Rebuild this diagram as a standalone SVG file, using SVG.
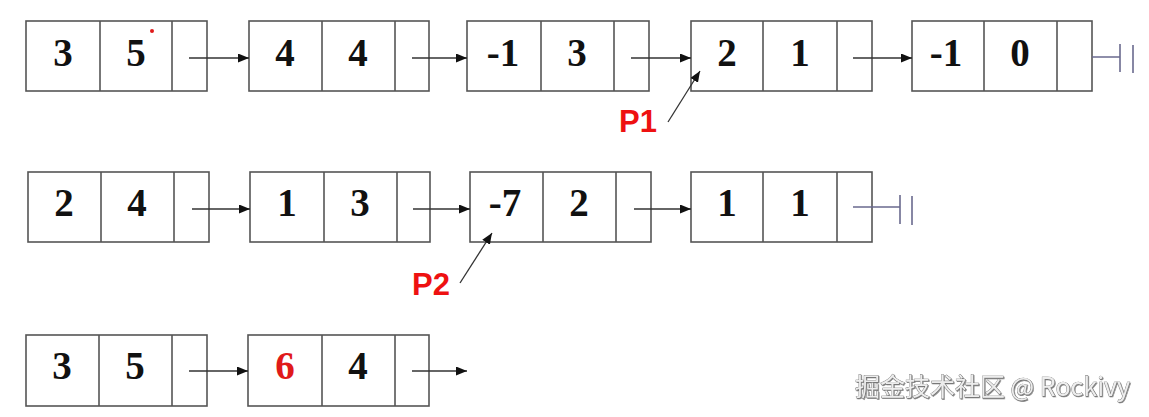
<svg xmlns="http://www.w3.org/2000/svg" width="1149" height="417" viewBox="0 0 1149 417">
<style>
.box{fill:#fff;stroke:#555;stroke-width:1.6}
.div{stroke:#555;stroke-width:1.6}
.num{font-family:"Liberation Serif","Times New Roman",serif;font-weight:bold;font-size:39px;fill:#111;text-anchor:middle}
.red{fill:#e01a1a}
.ptr{font-family:"Liberation Sans",Arial,sans-serif;font-weight:bold;font-size:31px;fill:#ee1111}
.conn{stroke:#333;stroke-width:1.3;fill:none}
.null{stroke:#6a6a8e;stroke-width:1.6;fill:none}
.wm{font-family:"Noto Sans CJK SC","Noto Sans",sans-serif;font-size:25px;fill:#ededed;stroke:#666;stroke-width:0.7;paint-order:stroke}
</style>
<defs>
<marker id="ah" markerUnits="userSpaceOnUse" markerWidth="11" markerHeight="9" refX="11" refY="4.5" orient="auto">
<path d="M0,0 L11,4.5 L0,9 z" fill="#111"/>
</marker>
<filter id="sh" x="-5%" y="-20%" width="110%" height="150%">
<feDropShadow dx="0.8" dy="1" stdDeviation="0.6" flood-color="#444" flood-opacity="0.7"/>
</filter>
</defs>

<!-- Row 1 -->
<g id="r1n1"><rect class="box" x="26" y="21" width="181" height="70"/><line class="div" x1="100" y1="21" x2="100" y2="91"/><line class="div" x1="172" y1="21" x2="172" y2="91"/><text class="num" x="63" y="66">3</text><text class="num" x="136" y="66">5</text><circle cx="152" cy="31" r="2" fill="#e01a1a"/></g>
<g id="r1n2"><rect class="box" x="249" y="21" width="180" height="70"/><line class="div" x1="322" y1="21" x2="322" y2="91"/><line class="div" x1="395" y1="21" x2="395" y2="91"/><text class="num" x="285" y="66">4</text><text class="num" x="358" y="66">4</text></g>
<g id="r1n3"><rect class="box" x="467" y="21" width="182" height="70"/><line class="div" x1="541" y1="21" x2="541" y2="91"/><line class="div" x1="614" y1="21" x2="614" y2="91"/><text class="num" x="503" y="66">-1</text><text class="num" x="577" y="66">3</text></g>
<g id="r1n4"><rect class="box" x="691" y="21" width="181" height="70"/><line class="div" x1="763" y1="21" x2="763" y2="91"/><line class="div" x1="837" y1="21" x2="837" y2="91"/><text class="num" x="727" y="66">2</text><text class="num" x="800" y="66">1</text></g>
<g id="r1n5"><rect class="box" x="912" y="21" width="180" height="70"/><line class="div" x1="984" y1="21" x2="984" y2="91"/><line class="div" x1="1057" y1="21" x2="1057" y2="91"/><text class="num" x="946" y="66">-1</text><text class="num" x="1020" y="66">0</text></g>
<g id="P1"><text class="ptr" x="619" y="132">P1</text></g>

<!-- Row 2 -->
<g id="r2n1"><rect class="box" x="28" y="172" width="181" height="70"/><line class="div" x1="101" y1="172" x2="101" y2="242"/><line class="div" x1="174" y1="172" x2="174" y2="242"/><text class="num" x="64" y="216">2</text><text class="num" x="137" y="216">4</text></g>
<g id="r2n2"><rect class="box" x="250" y="172" width="180" height="70"/><line class="div" x1="324" y1="172" x2="324" y2="242"/><line class="div" x1="397" y1="172" x2="397" y2="242"/><text class="num" x="287" y="216">1</text><text class="num" x="360" y="216">3</text></g>
<g id="r2n3"><rect class="box" x="470" y="172" width="181" height="70"/><line class="div" x1="543" y1="172" x2="543" y2="242"/><line class="div" x1="616" y1="172" x2="616" y2="242"/><text class="num" x="505" y="216">-7</text><text class="num" x="579" y="216">2</text></g>
<g id="r2n4"><rect class="box" x="691" y="172" width="181" height="70"/><line class="div" x1="763" y1="172" x2="763" y2="242"/><line class="div" x1="837" y1="172" x2="837" y2="242"/><text class="num" x="727" y="216">1</text><text class="num" x="800" y="216">1</text></g>
<g id="P2"><text class="ptr" x="412" y="295">P2</text></g>

<!-- Row 3 -->
<g id="r3n1"><rect class="box" x="26" y="335" width="181" height="71"/><line class="div" x1="99" y1="335" x2="99" y2="406"/><line class="div" x1="172" y1="335" x2="172" y2="406"/><text class="num" x="62" y="379">3</text><text class="num" x="135" y="379">5</text></g>
<g id="r3n2"><rect class="box" x="248" y="335" width="181" height="71"/><line class="div" x1="322" y1="335" x2="322" y2="406"/><line class="div" x1="395" y1="335" x2="395" y2="406"/><text class="num red" x="285" y="379">6</text><text class="num" x="358" y="379">4</text></g>

<!-- Connectors -->
<g id="connectors">
<line class="conn" x1="189" y1="58" x2="249" y2="58" marker-end="url(#ah)"/>
<line class="conn" x1="412" y1="58" x2="467" y2="58" marker-end="url(#ah)"/>
<line class="conn" x1="631" y1="58" x2="691" y2="58" marker-end="url(#ah)"/>
<line class="conn" x1="853" y1="58" x2="912" y2="58" marker-end="url(#ah)"/>
<path class="null" d="M1092,57 H1120 M1120,44 V72 M1133,45 V73"/>
<line class="conn" x1="668" y1="122" x2="700" y2="71" marker-end="url(#ah)"/>

<line class="conn" x1="192" y1="209" x2="250" y2="209" marker-end="url(#ah)"/>
<line class="conn" x1="413" y1="209" x2="470" y2="209" marker-end="url(#ah)"/>
<line class="conn" x1="634" y1="209" x2="691" y2="209" marker-end="url(#ah)"/>
<path class="null" d="M853,207 H900 M900,195 V224 M912,196 V225"/>
<line class="conn" x1="460" y1="283" x2="492" y2="233" marker-end="url(#ah)"/>

<line class="conn" x1="189" y1="371" x2="248" y2="371" marker-end="url(#ah)"/>
<line class="conn" x1="412" y1="371" x2="467" y2="371" marker-end="url(#ah)"/>
</g>

<text class="wm" x="855" y="396" filter="url(#sh)">掘金技术社区 @ Rockivy</text>
</svg>
